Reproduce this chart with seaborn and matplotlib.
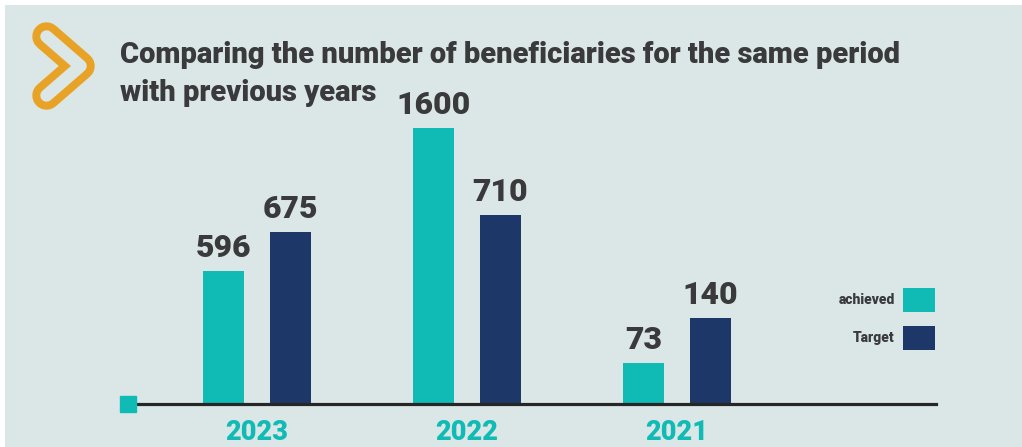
import matplotlib.pyplot as plt
import pandas as pd
import seaborn as sns
from matplotlib.lines import Line2D
from matplotlib.patches import Rectangle

# Data
years = ["2023", "2022", "2021"]
achieved = [596, 1600, 73]
target = [675, 710, 140]
# the infographic does not draw its bars to scale, so keep drawn heights (px) apart
achieved_drawn = [133, 276, 41]
target_drawn = [172, 189, 86]
series_names = ["achieved", "Target"]

title_lines = ["Comparing the number of beneficiaries for the same period",
               "with previous years"]

BG = "#dbe7e7"
TEAL = "#10bbb5"
NAVY = "#1c3768"
DARK = "#3a3a3c"
ORANGE = "#e8a326"

df = pd.DataFrame({
    "year": years * 2,
    "series": [series_names[0]] * 3 + [series_names[1]] * 3,
    "value": achieved + target,
    "height": achieved_drawn + target_drawn,
})

sns.set_style("white")
plt.rcParams["font.family"] = ["Roboto", "DejaVu Sans"]

W, H = 1022, 447
fig = plt.figure(figsize=(W / 100, H / 100), dpi=100, facecolor="white")

# background panel (thin white border on the left and top)
fig.patches.append(Rectangle((5 / W, 0), 1, 1 - 5 / H, transform=fig.transFigure,
                             facecolor=BG, edgecolor="none", zorder=-10))

ax = fig.add_axes([135 / W, (H - 404) / H, (936 - 135) / W, 304 / H])
ax.set_facecolor("none")

sns.barplot(data=df, x="year", y="height", hue="series", order=years,
            hue_order=series_names, palette=[TEAL, NAVY], width=0.63, gap=0.38,
            saturation=1, linewidth=0, ax=ax)

for cont, vals in zip(ax.containers, [achieved, target]):
    ax.bar_label(cont, labels=[str(v) for v in vals], padding=5.5, fontsize=23,
                 fontweight="heavy", color=DARK)

x_left = (135 - 257) / 210
x_right = (936 - 257) / 210
ax.set_xlim(x_left, x_right)
ax.set_ylim(0, 304)

for s in ["top", "right", "left"]:
    ax.spines[s].set_visible(False)
ax.spines["bottom"].set_linewidth(2.3)
ax.spines["bottom"].set_color("#262626")
ax.set_yticks([])
ax.set_xlabel("")
ax.set_ylabel("")
ax.tick_params(axis="x", length=0, pad=11, labelsize=19.5, labelcolor=TEAL)
for lab in ax.get_xticklabels():
    lab.set_fontweight("heavy")

# small teal square at the start of the axis line
ax.plot([x_left - 7 / 210], [0], marker="s", markersize=11.5, color=TEAL,
        clip_on=False, zorder=5)

# legend on the right, labels before the markers
leg = ax.legend(loc="upper right", bbox_to_anchor=(935 / W, 1 - 288 / H),
                bbox_transform=fig.transFigure, frameon=False, markerfirst=False,
                prop={"weight": "heavy", "size": 10}, handlelength=2.3,
                handleheight=2.3, labelspacing=1.0, handletextpad=0.6,
                borderpad=0, borderaxespad=0)
for t in leg.get_texts():
    t.set_color(DARK)

# title
fig.text(120 / W, 1 - 63 / H, title_lines[0], fontsize=21, fontweight="heavy",
         color=DARK, va="baseline", ha="left")
fig.text(120 / W, 1 - 101 / H, title_lines[1], fontsize=21, fontweight="heavy",
         color=DARK, va="baseline", ha="left")

# chevron icon: thick rounded ">" band with a hollow slit inside
cx = [46.5 / W, 80.5 / W, 46.5 / W]
cy = [1 - 36.5 / H, 1 - 66 / H, 1 - 95.5 / H]
for lw, col in [(20.5, ORANGE), (9.0, BG)]:
    fig.add_artist(Line2D(cx, cy, transform=fig.transFigure, color=col, linewidth=lw,
                          solid_capstyle="round", solid_joinstyle="round"))

fig.savefig("out.png", dpi=100)
